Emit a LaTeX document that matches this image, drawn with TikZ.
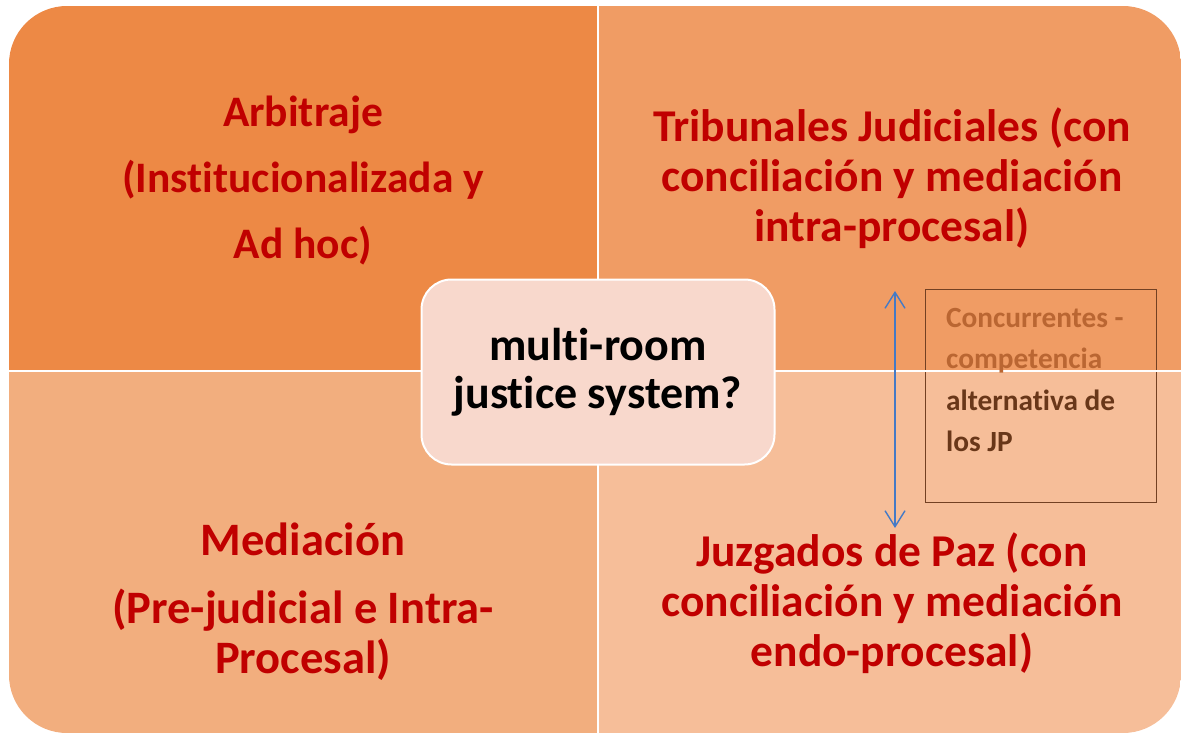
\documentclass[tikz,border=0pt]{standalone}
\usepackage{fontspec}
\setmainfont{Carlito}[Ligatures=NoCommon]
\usetikzlibrary{arrows.meta}
\definecolor{qtl}{RGB}{237,137,69}
\definecolor{qtr}{RGB}{240,156,100}
\definecolor{qbl}{RGB}{242,174,126}
\definecolor{qbr}{RGB}{246,190,153}
\definecolor{cfill}{RGB}{248,216,204}
\definecolor{redtxt}{RGB}{192,0,0}
\definecolor{boxline}{RGB}{115,65,35}
\definecolor{brlight}{RGB}{186,102,50}
\definecolor{brdark}{RGB}{105,55,25}
\definecolor{arrowblue}{RGB}{68,122,198}
\tikzset{
  quadtext/.style={text=redtxt, font=\fontsize{45.5}{50}\selectfont\bfseries, align=center, inner sep=0pt},
  centerbox/.style={draw=white, line width=2pt, fill=cfill, rounded corners=30pt,
    minimum width=353pt, minimum height=185pt, align=center,
    font=\fontsize{46}{48}\selectfont\bfseries, text=black},
  notebox/.style={draw=boxline, line width=1.2pt, minimum width=231pt, minimum height=213pt, anchor=north west, inner sep=0pt},
  notetext/.style={font=\fontsize{29.3}{41.5}\selectfont\bfseries, align=left, anchor=north west, inner sep=0pt},
  dblarrow/.style={draw=arrowblue, line width=1.4pt, {Straight Barb[length=16pt,width=20pt]}-{Straight Barb[length=16pt,width=20pt]}},
  gap/.style={draw=white, line width=2pt}
}
\begin{document}
\begin{tikzpicture}[x=1pt,y=-1pt]
\useasboundingbox (0,0) rectangle (1181,733);
\begin{scope}
  \clip[rounded corners=58pt] (9,6) rectangle (1181,733);
  \fill[qtl] (9,6) rectangle (598,371);
  \fill[qtr] (598,6) rectangle (1181,371);
  \fill[qbl] (9,371) rectangle (598,733);
  \fill[qbr] (598,371) rectangle (1181,733);
\end{scope}
\node[notebox] (jp) at (925,289) {};
\draw[gap] (598,6) -- (598,733);
\draw[gap] (9,371) -- (1181,371);
\node[quadtext, font=\fontsize{43.5}{50}\selectfont\bfseries] (tl) at (303,181) {Arbitraje\\[16pt](Institucionalizada y\\[16pt]Ad hoc)};
\node[quadtext] (tr) at (892,178) {Tribunales Judiciales (con\\conciliación y mediación\\intra-procesal)};
\node[quadtext, font=\fontsize{46.5}{50}\selectfont\bfseries] (bl) at (303,602) {Mediación\\[18pt](Pre-judicial e Intra-\\Procesal)};
\node[quadtext] (br) at (892,603) {Juzgados de Paz (con\\conciliación y mediación\\endo-procesal)};
\node[centerbox] (c) at (598,372) {multi-room\\justice system?};
\node[notetext] (jptext) at (946,308) {\textcolor{brlight}{Concurrentes -}\\\textcolor{brlight}{competencia}\\\textcolor{brdark}{alternativa de}\\\textcolor{brdark}{los JP}};
\coordinate (a1) at (895,291);
\coordinate (a2) at (895,528);
\draw[dblarrow] (a1) -- (a2);
\end{tikzpicture}
\end{document}
